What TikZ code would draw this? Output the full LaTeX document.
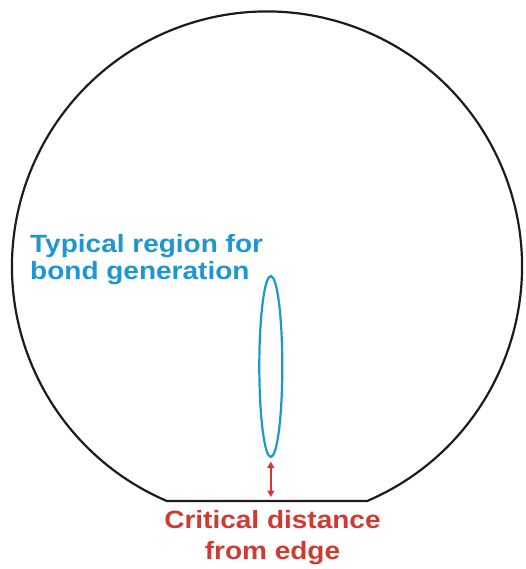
\documentclass[tikz,border=0pt]{standalone}
\usepackage{fontspec}
\setmainfont{Liberation Sans}
\usepackage{tikz}
\usetikzlibrary{shapes.geometric, arrows.meta, positioning, calc}
\definecolor{waferink}{HTML}{1C1C1C}
\definecolor{bondblue}{HTML}{1E96D2}
\definecolor{edgered}{HTML}{CF3B33}

\begin{document}
\begin{tikzpicture}[
        x=1pt, y=1pt,
        wafer/.style={draw=waferink, line width=2.2pt},
        zone/.style={ellipse, draw=bondblue, line width=2.2pt, inner sep=0pt, minimum width=23pt, minimum height=181pt},
        note/.style={font=\fontsize{25}{#1}\selectfont\bfseries\addfontfeature{FakeStretch=1.12}, inner sep=0pt},
        gap/.style={{Triangle[width=7pt,length=6.5pt]}-{Triangle[width=7pt,length=6.5pt]}, line width=1.4pt, edgered, shorten <=3.5pt, shorten >=4pt}
    ]
        \useasboundingbox (0,0) rectangle (525,569);
        % wafer outline with its flat
        \coordinate (centre) at (267,302.5);
        \coordinate (flatR) at ($(centre)+(-66.9:255pt)$);
        \coordinate (flatL) at ($(centre)+(-113.1:255pt)$);
        \coordinate (flatmid) at ($(flatL)!0.5!(flatR)$);
        \draw [wafer] (flatR) arc[start angle=-66.9, end angle=246.9, radius=255pt] -- cycle;

        \node (bondzone) [zone] at (270.8,202.5) {};
        \node (bondnote) [note=27, text=bondblue, align=left, anchor=north west] at (30,335) {Typical region for\\bond generation};
        \node (edgenote) [note=31, text=edgered, align=center, anchor=north] at (272.5,59) {Critical distance\\from edge};

        \draw [gap] (bondzone.south) -- (bondzone.south |- flatmid);
    \end{tikzpicture}
\end{document}
